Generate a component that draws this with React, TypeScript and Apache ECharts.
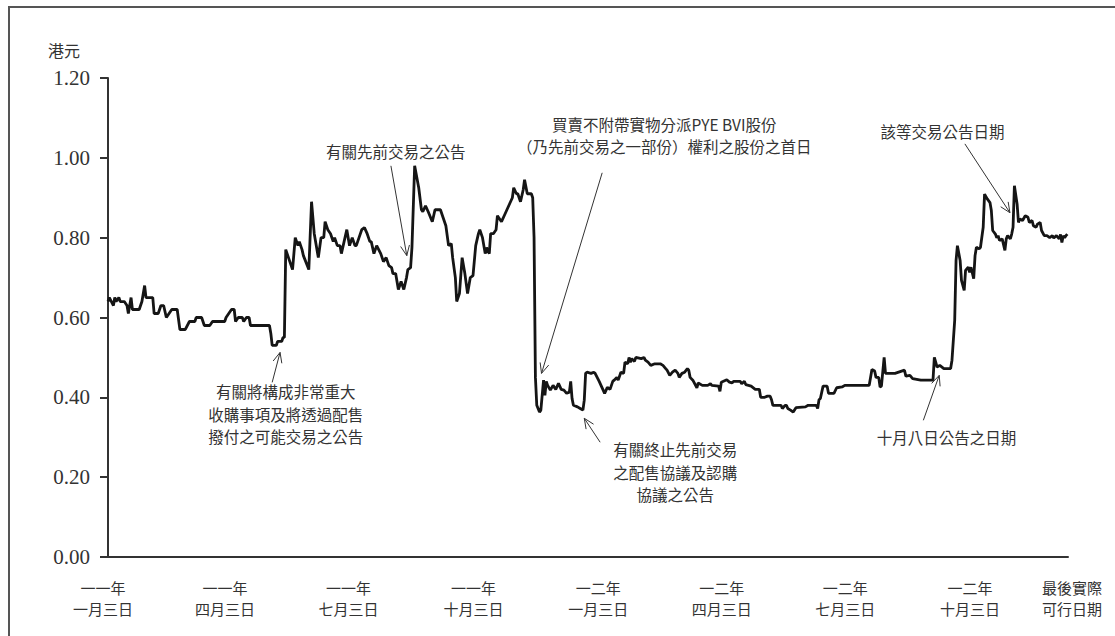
import React, { useEffect, useRef } from "react";
import * as echarts from "echarts";

// x = days since 3 Jan 2011, y = closing price (HK$)
const days = [
  0, 1, 4, 5, 6, 8, 9, 12, 14, 15, 17, 18, 23, 25, 27, 28, 33, 34, 37, 39, 41, 43, 45, 47, 51, 53, 57, 60, 64, 65,
  69, 71, 75, 77, 86, 87, 91, 93, 94, 96, 99, 100, 102, 104, 105, 119, 120, 121, 124, 125, 128, 129, 130, 131, 133,
  136, 138, 140, 141, 143, 144, 148, 150, 152, 155, 157, 159, 160, 162, 164, 166, 167, 169, 171, 172, 174, 176, 178,
  180, 182, 183, 185, 187, 189, 191, 193, 194, 196, 198, 201, 203, 205, 207, 209, 210, 212, 214, 216, 218, 220, 221,
  223, 224, 226, 229, 231, 232, 234, 236, 239, 241, 245, 247, 249, 251, 253, 254, 256, 257, 259, 261, 263, 265, 267,
  269, 271, 273, 274, 276, 278, 279, 281, 282, 284, 286, 287, 289, 290, 292, 294, 296, 298, 299, 301, 302, 304, 306,
  307, 309, 312, 313, 314, 315, 316, 318, 319, 321, 322, 323, 324, 326, 328, 330, 332, 334, 336, 338, 340, 341, 342,
  343, 346, 348, 350, 351, 352, 353, 356, 358, 359, 362, 364, 366, 368, 370, 372, 373, 375, 376, 378, 380, 381, 383,
  384, 385, 386, 388, 389, 393, 395, 396, 398, 400, 403, 407, 409, 411, 412, 414, 416, 418, 420, 421, 423, 425, 427,
  428, 429, 431, 434, 435, 438, 442, 444, 445, 450, 451, 452, 456, 458, 460, 461, 466, 467, 469, 470, 472, 474, 477,
  480, 481, 484, 486, 488, 489, 490, 496, 497, 499, 500, 501, 503, 505, 507, 514, 516, 522, 523, 524, 525, 527, 530,
  531, 535, 537, 541, 543, 561, 563, 565, 566, 568, 569, 570, 572, 573, 580, 587, 588, 591, 593, 599, 608, 609, 611,
  613, 616, 621, 622, 624, 625, 626, 628, 629, 631, 632, 634, 635, 636, 638, 639, 640, 642, 643, 645, 646, 648, 650,
  651, 652, 654, 655, 656, 657, 659, 661, 662, 663, 665, 666, 667, 668, 670, 671, 672, 674, 676, 678, 679, 681, 682,
  684, 685, 687, 688, 690, 692, 694, 696, 697, 699, 701, 702, 703, 704, 705, 706, 707,
];
const prices = [
  0.64, 0.65, 0.63, 0.65, 0.64, 0.65, 0.64, 0.64, 0.63, 0.61, 0.65, 0.62, 0.62, 0.64, 0.68, 0.65, 0.65, 0.61, 0.61,
  0.63, 0.63, 0.6, 0.61, 0.62, 0.62, 0.57, 0.57, 0.59, 0.59, 0.6, 0.6, 0.58, 0.58, 0.59, 0.59, 0.6, 0.62, 0.62, 0.59,
  0.6, 0.6, 0.59, 0.6, 0.6, 0.58, 0.58, 0.56, 0.53, 0.53, 0.54, 0.54, 0.55, 0.55, 0.77, 0.75, 0.72, 0.8, 0.78, 0.79,
  0.77, 0.755, 0.72, 0.89, 0.81, 0.75, 0.8, 0.8, 0.84, 0.82, 0.81, 0.79, 0.8, 0.78, 0.78, 0.76, 0.79, 0.82, 0.78, 0.8,
  0.78, 0.78, 0.8, 0.82, 0.825, 0.81, 0.79, 0.79, 0.76, 0.78, 0.76, 0.74, 0.75, 0.73, 0.725, 0.71, 0.71, 0.67, 0.69,
  0.67, 0.7, 0.72, 0.725, 0.775, 0.98, 0.925, 0.87, 0.865, 0.88, 0.865, 0.84, 0.87, 0.87, 0.85, 0.83, 0.78, 0.785,
  0.75, 0.7, 0.64, 0.66, 0.75, 0.71, 0.66, 0.7, 0.705, 0.78, 0.81, 0.82, 0.8, 0.76, 0.775, 0.76, 0.81, 0.81, 0.82,
  0.855, 0.845, 0.84, 0.855, 0.87, 0.885, 0.9, 0.925, 0.91, 0.91, 0.89, 0.92, 0.945, 0.91, 0.91, 0.9, 0.8, 0.45, 0.38,
  0.363, 0.368, 0.443, 0.405, 0.44, 0.43, 0.418, 0.43, 0.42, 0.435, 0.42, 0.418, 0.41, 0.413, 0.44, 0.397, 0.38,
  0.376, 0.372, 0.368, 0.393, 0.46, 0.463, 0.46, 0.463, 0.46, 0.44, 0.425, 0.41, 0.425, 0.42, 0.44, 0.443, 0.45,
  0.443, 0.463, 0.46, 0.488, 0.484, 0.5, 0.488, 0.497, 0.49, 0.5, 0.497, 0.5, 0.493, 0.488, 0.48, 0.484, 0.484, 0.48,
  0.472, 0.468, 0.455, 0.463, 0.468, 0.46, 0.45, 0.46, 0.463, 0.472, 0.468, 0.45, 0.443, 0.424, 0.436, 0.43, 0.43,
  0.434, 0.43, 0.428, 0.415, 0.438, 0.444, 0.438, 0.436, 0.44, 0.44, 0.434, 0.44, 0.432, 0.43, 0.428, 0.42, 0.42, 0.4,
  0.4, 0.403, 0.403, 0.394, 0.38, 0.38, 0.372, 0.38, 0.38, 0.372, 0.368, 0.363, 0.374, 0.376, 0.38, 0.38, 0.372,
  0.394, 0.397, 0.428, 0.428, 0.41, 0.41, 0.424, 0.426, 0.43, 0.43, 0.47, 0.466, 0.45, 0.45, 0.426, 0.428, 0.5, 0.46,
  0.46, 0.468, 0.453, 0.455, 0.447, 0.443, 0.443, 0.5, 0.476, 0.48, 0.472, 0.472, 0.493, 0.593, 0.743, 0.78, 0.743,
  0.693, 0.668, 0.718, 0.726, 0.713, 0.726, 0.697, 0.755, 0.776, 0.772, 0.776, 0.826, 0.909, 0.897, 0.888, 0.868,
  0.818, 0.809, 0.8, 0.805, 0.793, 0.797, 0.768, 0.797, 0.805, 0.797, 0.809, 0.826, 0.93, 0.884, 0.838, 0.847, 0.843,
  0.855, 0.851, 0.838, 0.843, 0.83, 0.826, 0.834, 0.838, 0.818, 0.805, 0.805, 0.8, 0.805, 0.799, 0.805, 0.797, 0.808,
  0.788, 0.805, 0.8, 0.805, 0.809,
];

const X_MAX = 707.5;
const xTickDays = [0, 90, 181, 273, 365, 456, 547, 639];
const xTickLabels = [
  "一一年\n一月三日",
  "一一年\n四月三日",
  "一一年\n七月三日",
  "一一年\n十月三日",
  "一二年\n一月三日",
  "一二年\n四月三日",
  "一二年\n七月三日",
  "一二年\n十月三日",
];
const lastLabel = ["最後實際", "可行日期"];
const yTicks = [0, 0.2, 0.4, 0.6, 0.8, 1.0, 1.2];
const yUnit = "港元";

// annotations: lines of text (top-centre of first line) and arrow tail -> tip, in data units
const annTexts = [
  ["有關將構成非常重大", "收購事項及將透過配售", "撥付之可能交易之公告"],
  ["有關先前交易之公告"],
  ["買賣不附帶實物分派PYE BVI股份", "（乃先前交易之一部份）權利之股份之首日"],
  ["有關終止先前交易", "之配售協議及認購", "協議之公告"],
  ["十月八日公告之日期"],
  ["該等交易公告日期"],
];
const annTextPos = [
  [131, 0.435],
  [212, 1.0375],
  [410, 1.105],
  [418, 0.29],
  [618, 0.32],
  [615, 1.0875],
];
const annTail = [
  [121, 0.4375],
  [208.5, 0.98],
  [364.2, 0.9625],
  [362.7, 0.2875],
  [600.9, 0.3425],
  [631.5, 1.035],
];
const annTip = [
  [126.8, 0.5125],
  [220.2, 0.755],
  [319.5, 0.46],
  [351, 0.3475],
  [612.6, 0.455],
  [664.7, 0.8625],
];

const CJK = "'Noto Sans CJK TC', 'Noto Sans CJK SC', sans-serif";
const TXT = "#333";
const ANN_FS = 15.5;
const ANN_LH = 22.5;

export default function App() {
  const ref = useRef<HTMLDivElement>(null);
  useEffect(() => {
    if (!ref.current) return;
    const chart = echarts.init(ref.current, null, { renderer: "svg" });
    const data = days.map((d, i) => [d, prices[i]]);
    chart.setOption({
      animation: false,
      grid: { left: 108, top: 78, width: 965, height: 479 },
      xAxis: {
        type: "value",
        min: 0,
        max: X_MAX,
        splitLine: { show: false },
        axisTick: { show: false },
        axisLine: { show: true, lineStyle: { color: "#333", width: 2 } },
        axisLabel: {
          customValues: [...xTickDays, X_MAX],
          color: TXT,
          fontFamily: CJK,
          fontSize: 15,
          lineHeight: 21,
          margin: 20,
          padding: [0, 10, 0, 0],
          formatter: (v: number) => {
            const i = xTickDays.indexOf(v);
            if (i >= 0) return xTickLabels[i];
            return `{l|${lastLabel[0]}}\n{l|${lastLabel[1]}}`;
          },
          rich: {
            l: {
              color: TXT,
              fontFamily: CJK,
              fontSize: 15,
              lineHeight: 21,
              padding: [0, 0, 0, 18],
            },
          },
        },
      },
      yAxis: {
        type: "value",
        min: 0,
        max: 1.2,
        interval: 0.2,
        name: yUnit,
        nameLocation: "end",
        nameGap: 20,
        nameTextStyle: { color: TXT, fontFamily: CJK, fontSize: 16, align: "right", padding: [0, 28, 0, 0] },
        splitLine: { show: false },
        axisLine: { show: true, lineStyle: { color: "#333", width: 2 } },
        axisTick: { show: true, inside: false, length: 8, lineStyle: { color: "#333", width: 2 } },
        axisLabel: {
          color: "#333",
          fontFamily: "'Liberation Serif', 'Times New Roman', serif",
          fontSize: 21,
          margin: 18,
          customValues: yTicks,
          formatter: (v: number) => v.toFixed(2),
        },
      },
      series: [
        {
          type: "line",
          data,
          symbol: "none",
          lineStyle: { color: "#151515", width: 2.8 },
          z: 3,
        },
      ],
    });

    const px = (p: number[]) => chart.convertToPixel({ xAxisIndex: 0, yAxisIndex: 0 }, p) as number[];
    const graphics: any[] = [];
    annTexts.forEach((lines, i) => {
      const tp = px(annTextPos[i]);
      lines.forEach((t, j) => {
        graphics.push({
          type: "text",
          x: tp[0],
          y: tp[1] + j * ANN_LH,
          z: 10,
          style: {
            text: t,
            fill: TXT,
            fontFamily: CJK,
            fontSize: ANN_FS,
            align: "center",
            verticalAlign: "top",
          },
        });
      });
      const a = px(annTail[i]);
      const b = px(annTip[i]);
      const dx = b[0] - a[0];
      const dy = b[1] - a[1];
      const len = Math.hypot(dx, dy) || 1;
      const ux = dx / len;
      const uy = dy / len;
      const L = 11;
      const th = (24 * Math.PI) / 180;
      const rot = (ang: number) => [
        b[0] - L * (ux * Math.cos(ang) - uy * Math.sin(ang)),
        b[1] - L * (ux * Math.sin(ang) + uy * Math.cos(ang)),
      ];
      graphics.push({
        type: "line",
        z: 10,
        shape: { x1: a[0], y1: a[1], x2: b[0], y2: b[1] },
        style: { stroke: "#333", lineWidth: 1 },
      });
      graphics.push({
        type: "polyline",
        z: 10,
        shape: { points: [rot(th), b, rot(-th)] },
        style: { stroke: "#333", lineWidth: 1, fill: null },
      });
    });
    chart.setOption({ graphic: graphics });
    return () => chart.dispose();
  }, []);

  return (
    <>
      <div
        style={{
          position: "absolute",
          left: 8,
          top: 6,
          width: 1107,
          height: 630,
          boxSizing: "border-box",
          borderLeft: "2px solid #555",
          borderTop: "2px solid #555",
        }}
      />
      <div ref={ref} style={{ position: "absolute", left: 0, top: 0, width: 1115, height: 636 }} />
    </>
  );
}
